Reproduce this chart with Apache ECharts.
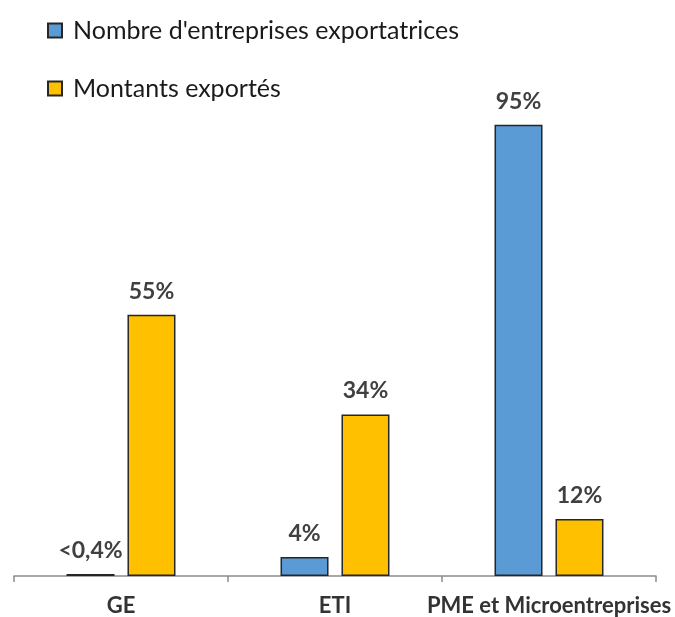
<!DOCTYPE html>
<html><head><meta charset="utf-8">
<script src="https://cdn.jsdelivr.net/npm/echarts@6/dist/echarts.min.js"></script>
<style>html,body{margin:0;padding:0;background:#fff}#c{width:675px;height:617px}</style>
</head><body><div id="c"></div>
<script>
const categories = ['GE', 'ETI', 'PME et Microentreprises'];
const seriesNames = ["Nombre d'entreprises exportatrices", 'Montants exportés'];
const nombre = [0.4, 4, 95];
const montants = [55, 34, 12];
const nombreLabels = ['<0,4%', '4%', '95%'];
const montantsLabels = ['55%', '34%', '12%'];

const font = 'Lato, "Open Sans", sans-serif';
const chart = echarts.init(document.getElementById('c'));
const labelStyle = (labels) => ({
  show: true, position: 'top', distance: 12,
  fontFamily: font, fontWeight: 'bold', fontSize: 23, color: '#404040',
  formatter: p => labels[p.dataIndex]
});
chart.setOption({
  animation: false,
  legend: {
    orient: 'vertical', left: 42, top: 13, itemGap: 33,
    itemWidth: 14, itemHeight: 14, icon: 'rect',
    textStyle: { fontFamily: font, fontSize: 25, color: '#1a1a1a', padding: [0, 0, 0, 6] },
    data: seriesNames
  },
  grid: { left: 14, right: 19, top: 101, bottom: 41 },
  xAxis: {
    type: 'category', data: categories,
    axisLine: { lineStyle: { color: '#8c8c8c', width: 1.5 } },
    axisTick: { show: true, length: 6, lineStyle: { color: '#8c8c8c', width: 1.5 } },
    axisLabel: { fontFamily: font, fontWeight: 'bold', fontSize: 22, color: '#333', margin: 19, interval: 0 }
  },
  yAxis: { type: 'value', min: 0, max: 100, show: false },
  series: [
    { name: seriesNames[0], type: 'bar', data: nombre, barWidth: 48, barGap: '27%',
      itemStyle: { color: '#5B9BD5', borderColor: '#262626', borderWidth: 1.5 },
      label: labelStyle(nombreLabels) },
    { name: seriesNames[1], type: 'bar', data: montants, barWidth: 48,
      itemStyle: { color: '#FFC000', borderColor: '#262626', borderWidth: 1.5 },
      label: labelStyle(montantsLabels) }
  ]
});
</script></body></html>
